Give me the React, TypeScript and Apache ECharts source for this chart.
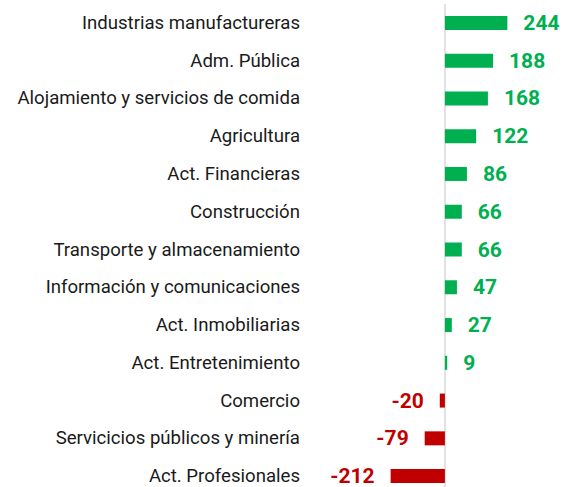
import React, { useEffect, useRef } from "react";
import * as echarts from "echarts";

const categories = [
  "Industrias manufactureras",
  "Adm. Pública",
  "Alojamiento y servicios de comida",
  "Agricultura",
  "Act. Financieras",
  "Construcción",
  "Transporte y almacenamiento",
  "Información y comunicaciones",
  "Act. Inmobiliarias",
  "Act. Entretenimiento",
  "Comercio",
  "Servicicios públicos y minería",
  "Act. Profesionales",
];

const values = [244, 188, 168, 122, 86, 66, 66, 47, 27, 9, -20, -79, -212];

const GREEN = "#00B050";
const RED = "#C00000";

export default function App() {
  const ref = useRef<HTMLDivElement>(null);

  useEffect(() => {
    document.body.style.margin = "0";
    document.body.style.overflow = "hidden";
    if (!ref.current) return;
    const chart = echarts.init(ref.current, null, { renderer: "svg" });
    chart.setOption({
      animation: false,
      grid: { left: 310, right: 0, top: 4, bottom: 0, containLabel: false },
      xAxis: {
        type: "value",
        min: -527,
        max: 516,
        show: false,
      },
      yAxis: {
        type: "category",
        data: categories,
        inverse: true,
        axisLine: { show: false },
        axisTick: { show: false },
        splitLine: { show: false },
        axisLabel: {
          margin: 10,
          fontFamily: "Roboto",
          fontSize: 18.6,
          color: "#1a1a1a",
        },
      },
      series: [
        {
          type: "bar",
          barWidth: 14,
          data: values.map((v) => ({
            value: v,
            itemStyle: { color: v >= 0 ? GREEN : RED },
            label: {
              show: true,
              position: v >= 0 ? "right" : "left",
              distance: 16,
              color: v >= 0 ? GREEN : RED,
              fontFamily: "Roboto",
              fontWeight: "bold",
              fontSize: 21,
              formatter: "{c}",
            },
          })),
          markLine: {
            silent: true,
            symbol: "none",
            label: { show: false },
            lineStyle: { color: "#e2e2e2", width: 2, type: "solid" },
            data: [{ xAxis: 0 }],
            z: 1,
          },
          z: 3,
        },
      ],
    });
    return () => chart.dispose();
  }, []);

  return <div ref={ref} style={{ width: 577, height: 495 }} />;
}
